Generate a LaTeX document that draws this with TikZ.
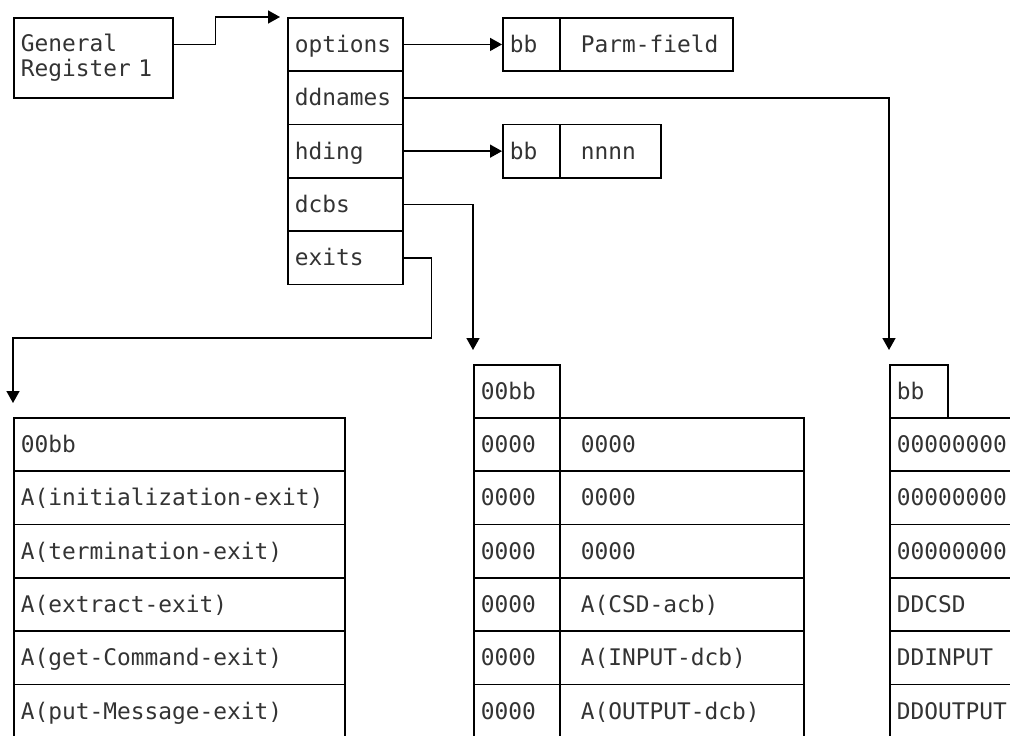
\documentclass[tikz,border=0pt]{standalone}
\usepackage{fontspec}
\newfontfamily\cellfont{DejaVu Sans Mono}
\usetikzlibrary{arrows.meta}
\newcommand\cellpad{\hspace*{0.14cm}}
\begin{document}
\begin{tikzpicture}[x=1cm, y=-1cm, line width=0.45pt,
    cell/.style={draw, anchor=north west, inner xsep=0.07cm, inner ysep=0pt,
        minimum height=0.533cm, text width=#1, align=left, text=black!80,
        text height=0.2cm, text depth=0.04cm,
        font={\cellfont\fontsize{6.5}{7.1}\selectfont\exhyphenpenalty=10000\hyphenpenalty=10000}},
    ptr/.style={-{Triangle[length=0.12cm, width=0.13cm]}}]
    \useasboundingbox (0,0) rectangle (10.1,7.36);
    \clip (0,0) rectangle (10.1,7.36);

    % 寄存器
    \node[cell=1.45cm, minimum height=0.8cm, text height={}, text depth={}] (reg) at (0.13,0.17) {General\\Register 1};

    % 参数表
    \node[cell=1.01cm] (opt) at (2.87,0.17) {options};
    \node[cell=1.01cm] (ddn) at (2.87,0.703) {ddnames};
    \node[cell=1.01cm] (hdg) at (2.87,1.237) {hding};
    \node[cell=1.01cm] (dcb) at (2.87,1.77) {dcbs};
    \node[cell=1.01cm] (ext) at (2.87,2.303) {exits};

    % 参数字段与标题
    \node[cell=0.43cm] (pbb) at (5.02,0.17) {bb};
    \node[cell=1.59cm] (pfd) at (5.59,0.17) {\cellpad Parm-field};
    \node[cell=0.43cm] (hbb) at (5.02,1.237) {bb};
    \node[cell=0.87cm] (hnn) at (5.59,1.237) {\cellpad nnnn};

    % 出口表
    \node[cell=3.17cm] (x0) at (0.13,4.17) {00bb};
    \node[cell=3.17cm] (x1) at (0.13,4.703) {A(initialization-exit)};
    \node[cell=3.17cm] (x2) at (0.13,5.237) {A(termination-exit)};
    \node[cell=3.17cm] (x3) at (0.13,5.77) {A(extract-exit)};
    \node[cell=3.17cm] (x4) at (0.13,6.303) {A(get-Command-exit)};
    \node[cell=3.17cm] (x5) at (0.13,6.837) {A(put-Message-exit)};

    % DCB 表
    \node[cell=0.72cm] (dhd) at (4.73,3.64) {00bb};
    \node[cell=0.72cm] (d1a) at (4.73,4.17) {0000};
    \node[cell=2.30cm] (d1b) at (5.59,4.17) {\cellpad 0000};
    \node[cell=0.72cm] (d2a) at (4.73,4.703) {0000};
    \node[cell=2.30cm] (d2b) at (5.59,4.703) {\cellpad 0000};
    \node[cell=0.72cm] (d3a) at (4.73,5.237) {0000};
    \node[cell=2.30cm] (d3b) at (5.59,5.237) {\cellpad 0000};
    \node[cell=0.72cm] (d4a) at (4.73,5.77) {0000};
    \node[cell=2.30cm] (d4b) at (5.59,5.77) {\cellpad A(CSD-acb)};
    \node[cell=0.72cm] (d5a) at (4.73,6.303) {0000};
    \node[cell=2.30cm] (d5b) at (5.59,6.303) {\cellpad A(INPUT-dcb)};
    \node[cell=0.72cm] (d6a) at (4.73,6.837) {0000};
    \node[cell=2.30cm] (d6b) at (5.59,6.837) {\cellpad A(OUTPUT-dcb)};

    % DD 名表
    \node[cell=0.44cm] (nhd) at (8.89,3.64) {bb};
    \node[cell=1.26cm] (n1) at (8.89,4.17) {00000000};
    \node[cell=1.26cm] (n2) at (8.89,4.703) {00000000};
    \node[cell=1.26cm] (n3) at (8.89,5.237) {00000000};
    \node[cell=1.26cm] (n4) at (8.89,5.77) {DDCSD};
    \node[cell=1.26cm] (n5) at (8.89,6.303) {DDINPUT};
    \node[cell=1.26cm] (n6) at (8.89,6.837) {DDOUTPUT};

    % 指针
    \draw[ptr] (reg.east |- opt.west) -- ++(0.42,0) |- ([xshift=-0.07cm]opt.north west);
    \draw[ptr] (opt.east) -- (pbb.west);
    \draw[ptr] (ddn.east) -| ([yshift=0.14cm]nhd.north west);
    \draw[ptr] (hdg.east) -- (hbb.west);
    \draw[ptr] (dcb.east) -| ([yshift=0.14cm]dhd.north west);
    \draw[ptr] (ext.east) -- ++(0.28,0) -- ++(0,0.8) -| ([yshift=0.14cm]x0.north west);
\end{tikzpicture}
\end{document}
